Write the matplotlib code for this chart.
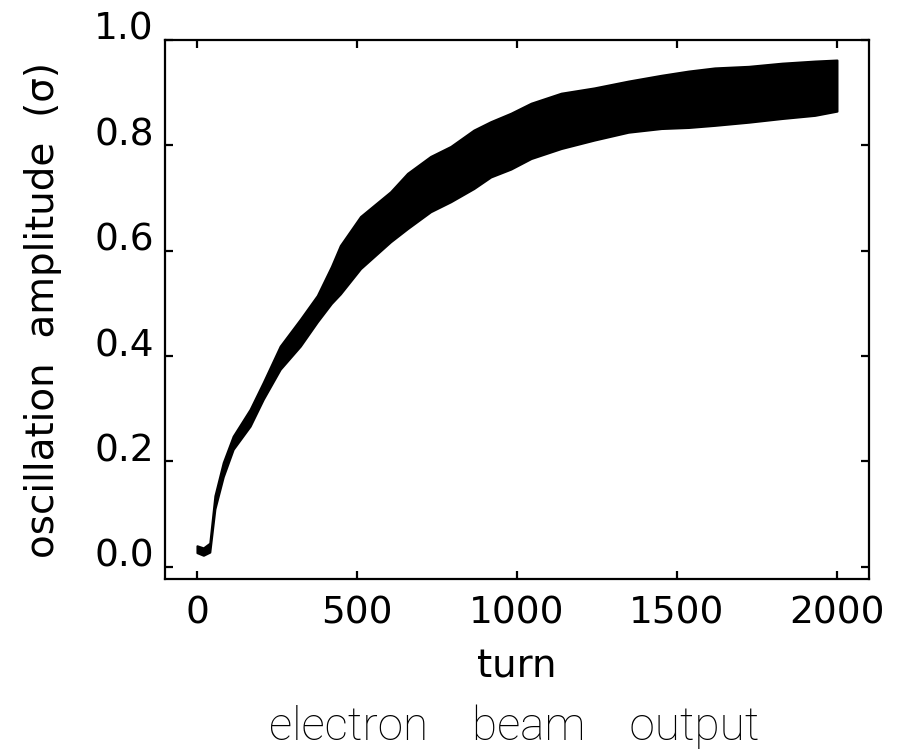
import matplotlib

matplotlib.use("Agg")
import matplotlib.pyplot as plt

# envelope of the oscillating amplitude
turn = [0, 20, 40, 56, 82, 113, 166, 207, 260, 323, 376, 420, 448, 511, 605,
        658, 730, 793, 865, 918, 981, 1044, 1138, 1241, 1348, 1451, 1536,
        1618, 1724, 1828, 1931, 2000]
upper = [0.040, 0.036, 0.045, 0.135, 0.198, 0.248, 0.299, 0.350, 0.419, 0.470,
         0.515, 0.570, 0.610, 0.665, 0.712, 0.747, 0.779, 0.798, 0.829, 0.845,
         0.861, 0.880, 0.899, 0.909, 0.922, 0.933, 0.941, 0.947, 0.950, 0.956,
         0.960, 0.962]
lower = [0.027, 0.022, 0.028, 0.110, 0.171, 0.223, 0.267, 0.318, 0.375, 0.419,
         0.465, 0.500, 0.518, 0.566, 0.617, 0.642, 0.674, 0.693, 0.718, 0.740,
         0.755, 0.775, 0.794, 0.810, 0.825, 0.832, 0.834, 0.838, 0.844, 0.851,
         0.857, 0.865]

x_ticks = [0, 500, 1000, 1500, 2000]
y_ticks = [0.0, 0.2, 0.4, 0.6, 0.8, 1.0]

plt.rcParams["font.family"] = ["DejaVu Sans"]

fig = plt.figure(figsize=(9.12, 7.49), dpi=100)
ax = fig.add_axes([0.1809, 0.2270, 0.7719, 0.7196])

ax.fill_between(turn, lower, upper, color="black", linewidth=1.5, edgecolor="black")

ax.set_xlim(-100, 2100)
ax.set_ylim(-0.023, 1.0)
ax.set_xticks(x_ticks)
ax.set_yticks(y_ticks)
ax.set_xticklabels([str(t) for t in x_ticks])
ax.set_yticklabels([f"{v:.1f}" for v in y_ticks])
ax.tick_params(direction="in", top=True, right=True, length=6, width=1.6,
               labelsize=27)
ax.tick_params(axis="x", pad=12)
ax.tick_params(axis="y", pad=8)
for lab in ax.get_yticklabels():
    lab.set_verticalalignment("baseline")
for s in ax.spines.values():
    s.set_linewidth(1.6)

fig.text(517 / 912, 1 - 677 / 749, "turn", ha="center", va="baseline", fontsize=28)
fig.text(43 / 912, 1 - 310 / 749, "oscillation  amplitude  (σ)", rotation=90,
         ha="center", va="center", fontsize=28)
fig.text(514 / 912, 1 - 740 / 749, "electron    beam    output", ha="center",
         va="baseline", fontsize=33, family=["Roboto", "DejaVu Sans"],
         fontweight=200, color="black")

fig.savefig("out.png", dpi=100)
